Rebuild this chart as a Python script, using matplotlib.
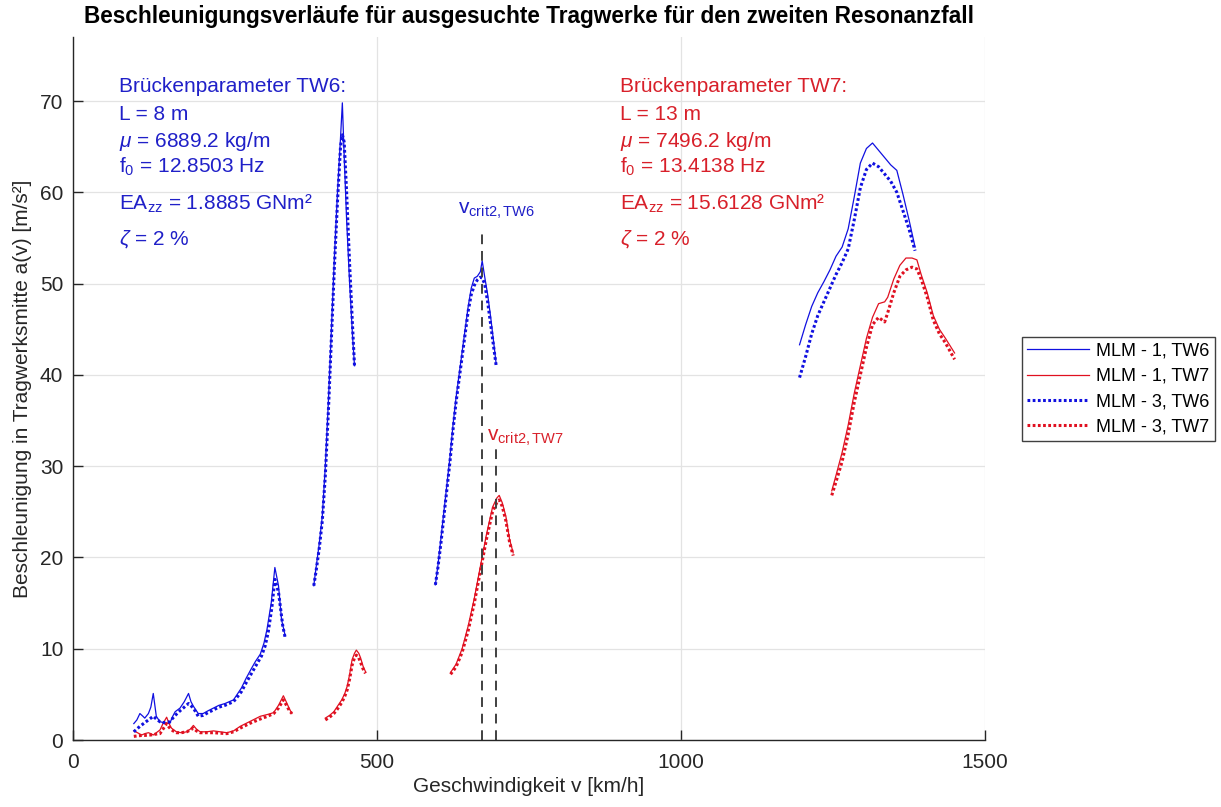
import numpy as np
import matplotlib
matplotlib.use("Agg")
import matplotlib.pyplot as plt

plt.rcParams['font.family'] = ['Liberation Sans', 'DejaVu Sans']
plt.rcParams['mathtext.fontset'] = 'custom'
plt.rcParams['mathtext.rm'] = 'Liberation Sans'
plt.rcParams['mathtext.it'] = 'Liberation Sans:italic'
plt.rcParams['mathtext.bf'] = 'Liberation Sans:bold'

# speed [km/h] and acceleration [m/s^2], one list per speed range
tw6_mlm1_v = [
    [100, 105, 110, 115, 118, 124, 128, 132, 137, 143, 150, 159, 164, 168, 176, 183, 190, 194, 198, 206,
     214, 222, 231, 240, 250, 264, 270, 277, 285, 294, 300, 308, 314, 319, 326, 332, 338, 343, 349],
    [396, 400, 405, 410, 415, 420, 425, 430, 435, 440, 443, 446, 450, 455, 460, 463],
    [596, 600, 605, 610, 615, 620, 625, 630, 635, 640, 645, 650, 655, 660, 665, 670, 673, 677, 682, 687, 692, 696],
    [1195, 1205, 1215, 1225, 1235, 1245, 1255, 1265, 1275, 1285, 1295, 1305, 1315, 1325, 1335, 1345, 1355,
     1365, 1375, 1385],
]
tw6_mlm1_a = [
    [1.8, 2.2, 2.9, 2.6, 2.4, 2.9, 3.6, 5.1, 2.6, 2.0, 1.9, 1.8, 2.6, 3.1, 3.5, 4.2, 5.1, 4.2, 3.7, 2.9,
     2.9, 3.2, 3.5, 3.8, 4.0, 4.4, 5.0, 5.7, 6.8, 7.9, 8.6, 9.4, 10.6, 12.1, 15.0, 18.9, 16.9, 13.2, 11.4],
    [16.9, 19.0, 21.5, 24.5, 30.0, 37.0, 45.0, 53.0, 60.0, 66.0, 69.8, 64.0, 57.0, 50.0, 44.0, 41.0],
    [17.0, 19.0, 22.0, 25.0, 28.0, 31.0, 34.5, 37.5, 40.0, 42.5, 45.0, 47.5, 49.5, 50.6, 50.8, 51.3, 52.5,
     50.8, 48.8, 46.3, 43.5, 41.2],
    [43.3, 45.5, 47.5, 49.0, 50.2, 51.5, 53.0, 54.0, 56.0, 59.5, 63.2, 64.8, 65.4, 64.6, 63.8, 63.0, 62.4,
     59.8, 57.0, 54.0],
]

tw6_mlm3_v = [
    [100, 105, 110, 118, 124, 132, 137, 143, 150, 159, 168, 176, 183, 190, 198, 206, 214, 222, 231, 240,
     250, 264, 270, 277, 285, 297, 303, 310, 316, 321, 327, 332, 338, 345, 349],
    [396, 400, 405, 410, 415, 420, 425, 430, 435, 440, 443, 446, 450, 455, 460, 463],
    [596, 600, 605, 610, 615, 620, 625, 630, 635, 640, 645, 650, 655, 660, 665, 670, 673, 677, 682, 687, 692, 696],
    [1195, 1205, 1215, 1225, 1235, 1245, 1255, 1265, 1275, 1285, 1295, 1305, 1315, 1325, 1335, 1345, 1355,
     1365, 1375, 1385],
]
tw6_mlm3_a = [
    [0.9, 1.2, 1.5, 1.9, 2.2, 2.6, 2.3, 2.0, 1.9, 2.0, 2.7, 3.2, 3.6, 4.0, 3.5, 2.6, 2.7, 3.0, 3.3, 3.6,
     3.8, 4.2, 4.7, 5.3, 6.3, 7.7, 8.4, 9.2, 10.3, 11.8, 14.5, 17.6, 16.2, 12.5, 11.2],
    [16.9, 18.6, 21.0, 24.0, 29.0, 36.0, 44.0, 52.0, 59.0, 65.0, 66.3, 65.5, 60.0, 52.0, 45.0, 41.0],
    [17.0, 18.8, 21.5, 24.5, 27.5, 30.5, 34.0, 37.0, 39.5, 42.0, 44.5, 47.0, 48.8, 49.8, 50.4, 50.7, 50.6,
     50.0, 48.0, 45.5, 43.0, 41.0],
    [39.7, 42.0, 44.5, 46.5, 48.0, 49.5, 51.0, 52.3, 53.8, 57.0, 60.5, 62.5, 63.2, 62.8, 62.0, 61.2, 60.0,
     58.0, 56.0, 53.6],
]

tw7_v = [
    [100, 106, 113, 118, 124, 128, 132, 137, 143, 148, 154, 158, 162, 170, 178, 187, 193, 198, 203, 209,
     220, 231, 242, 253, 264, 275, 290, 308, 320, 330, 338, 346, 352, 356, 360],
    [415, 422, 429, 435, 442, 447, 451, 455, 459, 463, 466, 470, 473, 477, 481],
    [621, 630, 640, 650, 660, 670, 680, 690, 697, 701, 706, 712, 718, 724],
    [1248, 1255, 1265, 1275, 1285, 1295, 1305, 1315, 1325, 1335, 1340, 1350, 1360, 1370, 1380, 1388, 1395,
     1405, 1415, 1425, 1435, 1450],
]
tw7_mlm1_a = [
    [1.0, 0.8, 0.55, 0.7, 0.8, 0.7, 0.55, 0.8, 1.1, 1.8, 2.5, 1.8, 1.3, 0.9, 0.8, 0.9, 1.2, 1.6, 1.2, 0.9,
     0.9, 1.0, 0.9, 0.8, 1.0, 1.5, 2.0, 2.6, 2.8, 3.0, 3.8, 4.85, 4.0, 3.4, 2.9],
    [2.4, 2.7, 3.1, 3.7, 4.4, 5.1, 5.9, 7.2, 8.8, 9.5, 9.85, 9.5, 9.0, 8.1, 7.5],
    [7.4, 8.3, 10.0, 12.5, 15.5, 19.0, 22.5, 25.5, 26.5, 26.8, 26.0, 24.5, 22.0, 20.5],
    [27.3, 29.0, 31.5, 34.5, 38.0, 41.0, 44.0, 46.3, 47.8, 48.0, 48.5, 50.5, 52.0, 52.8, 52.8, 52.6, 51.0,
     49.0, 46.5, 45.0, 44.0, 42.4],
]
tw7_mlm3_a = [
    [0.4, 0.45, 0.5, 0.5, 0.55, 0.55, 0.6, 0.65, 0.7, 1.2, 1.8, 1.4, 1.1, 0.8, 0.8, 0.9, 1.1, 1.3, 1.0, 0.8,
     0.8, 0.8, 0.75, 0.7, 0.9, 1.3, 1.8, 2.3, 2.6, 2.9, 3.5, 4.4, 3.7, 3.2, 2.9],
    [2.2, 2.5, 2.9, 3.4, 4.1, 4.8, 5.5, 6.7, 8.2, 9.0, 9.3, 9.0, 8.5, 7.8, 7.3],
    [7.2, 8.0, 9.6, 12.0, 15.0, 18.5, 22.0, 25.0, 26.0, 26.3, 25.6, 24.0, 21.7, 20.2],
    [26.8, 28.3, 30.5, 33.5, 37.0, 40.0, 43.0, 45.5, 46.3, 45.8, 46.8, 49.0, 50.8, 51.5, 51.8, 51.6, 50.5,
     48.5, 46.0, 44.5, 43.5, 41.7],
]

v_crit = [673, 695]
v_crit_top = [56, 32]
v_crit_names = ['TW6', 'TW7']

params_tw6 = ['Brückenparameter TW6:', 'L = 8 m', r'$\mu$ = 6889.2 kg/m', r'f$_0$ = 12.8503 Hz',
              r'EA$_\mathrm{zz}$ = 1.8885 GNm²', r'$\zeta$ = 2 %']
params_tw7 = ['Brückenparameter TW7:', 'L = 13 m', r'$\mu$ = 7496.2 kg/m', r'f$_0$ = 13.4138 Hz',
              r'EA$_\mathrm{zz}$ = 15.6128 GNm²', r'$\zeta$ = 2 %']

BLUE = '#1010e0'
RED = '#e01020'
BLUE_TXT = '#2020c8'
RED_TXT = '#d8202a'


def join(xs, ys):
    # stitch the speed ranges together, NaN breaks the line between them
    x, y = [], []
    for xi, yi in zip(xs, ys):
        x += list(xi) + [np.nan]
        y += list(yi) + [np.nan]
    return np.array(x), np.array(y)


fig = plt.figure(figsize=(12.21, 8.07), dpi=100)
ax = fig.add_axes([0.0598, 0.083, 0.7469, 0.871])

dots = (0, (0.9, 0.8))
ax.plot(*join(tw6_mlm1_v, tw6_mlm1_a), color=BLUE, lw=0.9, label='MLM - 1, TW6')
ax.plot(*join(tw7_v, tw7_mlm1_a), color=RED, lw=0.9, label='MLM - 1, TW7')
ax.plot(*join(tw6_mlm3_v, tw6_mlm3_a), color=BLUE, lw=2.2, linestyle=dots, label='MLM - 3, TW6')
ax.plot(*join(tw7_v, tw7_mlm3_a), color=RED, lw=2.2, linestyle=dots, label='MLM - 3, TW7')

for vc, top in zip(v_crit, v_crit_top):
    ax.plot([vc, vc], [0, top], color='#404040', lw=1.4, linestyle=(0, (5, 3.5)))

ax.text(633, 57.7, r'v$_\mathrm{crit2,' + v_crit_names[0] + '}$', color=BLUE_TXT, fontsize=15, va='baseline')
ax.text(681, 32.8, r'v$_\mathrm{crit2,' + v_crit_names[1] + '}$', color=RED_TXT, fontsize=15, va='baseline')

line_y = [71.0, 67.9, 65.0, 62.1, 58.1, 54.3]
for s6, s7, yy in zip(params_tw6, params_tw7, line_y):
    ax.text(76, yy, s6, color=BLUE_TXT, fontsize=15, va='baseline')
    ax.text(900, yy, s7, color=RED_TXT, fontsize=15, va='baseline')

ax.set_xlim(0, 1500)
ax.set_ylim(0, 77)
ax.set_xticks([0, 500, 1000, 1500])
ax.set_yticks(np.arange(0, 71, 10))
ax.grid(True, color='#e3e3e3', lw=0.9)
ax.set_axisbelow(True)
ax.spines['top'].set_visible(False)
ax.spines['right'].set_visible(False)
for s in ['left', 'bottom']:
    ax.spines[s].set_color('#262626')
    ax.spines[s].set_linewidth(1.0)
ax.tick_params(direction='in', length=7, width=1, colors='#262626', labelsize=15, pad=7)
ax.tick_params(axis='x', pad=9)

ax.set_xlabel('Geschwindigkeit v [km/h]', fontsize=15, color='#262626', labelpad=4)
ax.set_ylabel('Beschleunigung in Tragwerksmitte a(v) [m/s²]', fontsize=15, color='#262626', labelpad=6)
ax.set_title('Beschleunigungsverläufe für ausgesuchte Tragwerke für den zweiten Resonanzfall',
             fontsize=16.3, fontweight='bold', pad=10)

leg = ax.legend(loc='center left', bbox_to_anchor=(0.837, 0.518), bbox_transform=fig.transFigure,
                borderaxespad=0, fontsize=13, handlelength=3.4, handletextpad=0.4, labelspacing=0.45,
                borderpad=0.3, fancybox=False, framealpha=1, edgecolor='#404040')
leg.get_frame().set_linewidth(1.0)

fig.savefig('out.png', dpi=100)
